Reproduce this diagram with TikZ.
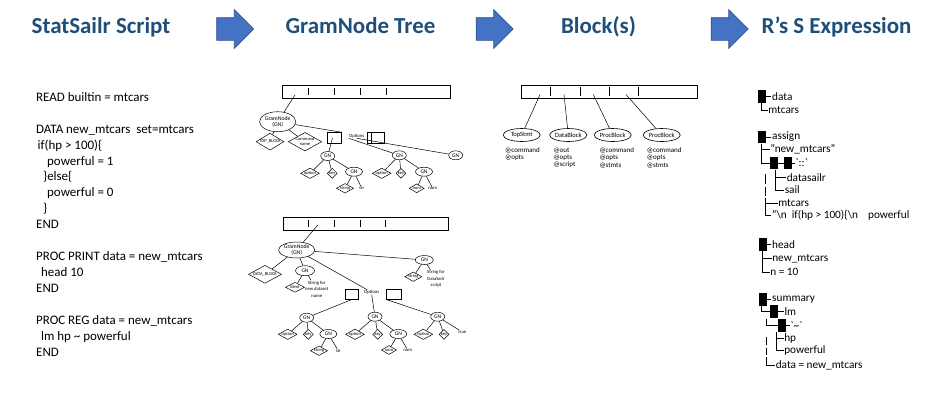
\documentclass[tikz,border=0pt]{standalone}
\usepackage{fontspec}
\setmainfont{Carlito}
\usetikzlibrary{positioning,shapes.geometric,shapes.arrows}
\definecolor{hdrblue}{HTML}{1F4E79}
\definecolor{arrfill}{HTML}{4472C4}
\definecolor{arrline}{HTML}{2F528F}
\tikzset{
    hdr/.style={font=\fontsize{23}{27}\selectfont\bfseries, text=hdrblue, anchor=base, inner sep=0pt},
    bigarrow/.style={single arrow, draw=arrline, fill=arrfill, line width=0.7bp, inner xsep=0pt, inner ysep=11bp,
        minimum height=37bp, single arrow head extend=8bp},
    code/.style={anchor=north west, align=left, inner sep=0pt, font=\fontsize{13}{16}\selectfont},
    cellrow/.style={draw, line width=0.6bp, inner sep=0pt},
    tl/.style={line width=0.5bp},
    gram/.style={ellipse, draw, line width=0.5bp, inner sep=0pt, align=center, font=\fontsize{5.8}{6.3}\selectfont},
    gn/.style={ellipse, draw, line width=0.5bp, inner sep=0pt, minimum width=14bp, minimum height=9bp, font=\fontsize{5.5}{6}\selectfont},
    leaf/.style={diamond, draw, line width=0.5bp, inner sep=0pt, aspect=1.8, minimum width=18bp, minimum height=10bp, font=\fontsize{4.5}{5}\selectfont},
    keyleaf/.style={leaf, aspect=1, minimum width=10bp},
    note/.style={align=center, inner sep=0.3bp, font=\fontsize{4.7}{6.6}\selectfont},
    optbox/.style={draw, line width=0.5bp, inner sep=0pt, minimum height=10.5bp},
    blk/.style={ellipse, draw, line width=0.6bp, inner sep=0pt, minimum width=37bp, minimum height=13bp, font=\fontsize{6.5}{7}\selectfont},
    attr/.style={anchor=north west, align=left, inner sep=0pt, font=\fontsize{7}{7.4}\selectfont},
    sbox/.style={fill=black, inner sep=0pt, minimum width=8bp, minimum height=12.6bp},
    sx/.style={anchor=west, inner sep=0.6bp, font=\fontsize{11.3}{13}\selectfont},
}

\begin{document}
\begin{tikzpicture}[x=1bp,y=-1bp]
  \useasboundingbox (0,0) rectangle (941,407);
  % headings and arrows
  \node[hdr] (h1) at (101,33) {StatSailr Script};
  \node[hdr] (h2) at (360.5,33) {GramNode Tree};
  \node[hdr] (h3) at (598.5,33) {Block(s)};
  \node[hdr] (h4) at (836.5,33) {R’s S Expression};
  \node[bigarrow] (a1) at (229.5,29) {};
  \node[bigarrow] (a2) at (489,29) {};
  \node[bigarrow] (a3) at (724,29) {};

  % the script
  \node[code] (src) at (36,92) {READ builtin = mtcars\\[16bp]
    DATA new\_mtcars\ \ set=mtcars\\
    \hspace*{1.5bp}if(hp > 100)\{\\
    \hspace*{11bp}powerful = 1\\
    \hspace*{7bp}\}else\{\\
    \hspace*{11bp}powerful = 0\\
    \hspace*{7bp}\}\\
    END\\[16bp]
    PROC PRINT data = new\_mtcars\\
    \hspace*{5bp}head 10\\
    END\\[16bp]
    PROC REG data = new\_mtcars\\
    \hspace*{5bp}lm hp \textasciitilde{} powerful\\
    END};

  % first tree
  \node[cellrow, minimum width=167.7bp, minimum height=13.3bp] (arrA) at (366.2,91.7) {};
  \foreach \x in {308.3,334.3,360,386.7} \draw[tl] (\x,88) -- (\x,95);
  \coordinate (cA) at (295,95);
  \node[gram, minimum width=35bp, minimum height=20bp] (gramA) at (277.7,121.7) {GramNode\\(GN)};
  \node[leaf, minimum width=27bp, minimum height=17bp] (topblk) at (270,141.7) {TOP\_BLOCK};
  \node[leaf, minimum width=33bp, minimum height=18bp, align=center] (cmdname) at (305,141.7) {Command\\name};
  \node[optbox, minimum width=14.4bp] (oAl) at (334.5,137.8) {};
  \node[note] (oA) at (356.7,135.8) {Options};
  \node[optbox, minimum width=17bp] (oAr) at (375.5,137.5) {};
  \draw[tl] (371,132.3) -- (371,142.7);
  \draw[tl] (cA) -- (gramA);
  \draw[tl] (gramA) -- (topblk);
  \draw[tl] (gramA) -- (cmdname);
  \draw[tl] (gramA) -- (oAl.north east);

  \node[gn] (gA1) at (327.7,156) {GN};
  \node[gn] (gA2) at (399.3,155.3) {GN};
  \node[gn] (gA3) at (455.7,155.3) {GN};
  \draw[tl] ([xshift=-2bp]oAl.center) -- (gA1);
  \draw[tl] (oA.south west) -- (gA2);
  \draw[tl] (oA.south) -- (gA3);

  \node[leaf] (dA1) at (310,173.3) {option};
  \node[keyleaf] (kA1) at (332.3,173.3) {key};
  \node[gn, minimum width=17bp] (gA11) at (354,171.7) {GN};
  \node[leaf, minimum width=15bp, minimum height=9bp] (sA11) at (345,188.3) {string};
  \node[note] (vA11) at (361.7,188.3) {str};
  \draw[tl] (gA1) -- (dA1);
  \draw[tl] (gA1) -- (kA1);
  \draw[tl] (gA1) -- (gA11);
  \draw[tl] (gA11) -- (sA11);
  \draw[tl] (gA11) -- (vA11);

  \node[leaf] (dA2) at (381.7,173.3) {option};
  \node[keyleaf] (kA2) at (401,173.3) {key};
  \node[gn, minimum width=17bp] (gA21) at (424,171.7) {GN};
  \node[leaf, minimum width=15bp, minimum height=9bp] (mA21) at (416.7,188.3) {num};
  \node[note] (vA21) at (432.7,188.3) {num};
  \draw[tl] (gA2) -- (dA2);
  \draw[tl] (gA2) -- (kA2);
  \draw[tl] (gA2) -- (gA21);
  \draw[tl] (gA21) -- (mA21);
  \draw[tl] (gA21) -- (vA21);

  % second tree
  \node[cellrow, minimum width=165bp, minimum height=12.7bp] (arrB) at (365.8,223.7) {};
  \foreach \x in {308.3,334.3,360,385.7} \draw[tl] (\x,220) -- (\x,227);
  \coordinate (cB) at (317.7,225);
  \node[gram, minimum width=34bp, minimum height=16bp] (gramB) at (296.7,250) {GramNode\\(GN)};
  \node[leaf, minimum width=33bp, minimum height=18bp] (dblk) at (265,274.3) {DATA\_BLOCK};
  \node[gn, minimum width=19bp, minimum height=10bp] (gB1) at (305,270.7) {GN};
  \node[leaf, minimum width=19bp] (iB1) at (295,287.3) {ident};
  \node[note] (nB1) at (316.7,289) {String for\\new dataset\\name};
  \node[gn, minimum width=18bp] (gB2) at (424.3,260) {GN};
  \node[leaf, minimum width=15bp, minimum height=8bp] (sB2) at (413.3,276.7) {string};
  \node[note] (nB2) at (436,279) {String for\\DataSailr\\script};
  \node[optbox, minimum width=13.3bp, minimum height=10bp] (oBl) at (351.7,294.3) {};
  \node[note] (oB) at (371.7,292.3) {Options};
  \node[optbox, minimum width=15bp, minimum height=10bp] (oBr) at (394.2,294.3) {};
  \draw[tl] (cB) -- (gramB);
  \draw[tl] (gramB) -- (dblk);
  \draw[tl] (gramB) -- (gB1);
  \draw[tl] (gB1) -- (iB1);
  \draw[tl] (gB1) -- (nB1);
  \draw[tl] (gramB) -- (gB2);
  \draw[tl] (gB2) -- (sB2);
  \draw[tl] (gB2) -- (nB2);
  \draw[tl] (gramB) -- (oB);

  \node[gn] (gB3) at (306.7,317.7) {GN};
  \node[gn] (gB4) at (375,316.7) {GN};
  \node[gn] (gB5) at (437.7,316.7) {GN};
  \draw[tl] (oBl.south) -- (gB3);
  \draw[tl] (oB.south) -- (gB4);
  \draw[tl] (oBr.south west) -- (gB5);

  \node[leaf] (dB3) at (287.7,334.3) {option};
  \node[keyleaf] (kB3) at (308.3,334.3) {key};
  \node[gn, minimum width=17bp] (gB31) at (328.3,334) {GN};
  \node[leaf, minimum width=15bp, minimum height=9bp] (sB31) at (319,350.7) {string};
  \node[note] (vB31) at (338.3,350.7) {str};
  \draw[tl] (gB3) -- (dB3);
  \draw[tl] (gB3) -- (kB3);
  \draw[tl] (gB3) -- (gB31);
  \draw[tl] (gB31) -- (sB31);
  \draw[tl] (gB31) -- (vB31);

  \node[leaf] (dB4) at (355,334.3) {option};
  \node[keyleaf] (kB4) at (377.7,334.3) {key};
  \node[gn, minimum width=17bp] (gB41) at (398.3,334) {GN};
  \node[leaf, minimum width=15bp, minimum height=9bp] (mB41) at (389,350) {num};
  \node[note] (vB41) at (407.7,350) {num};
  \draw[tl] (gB4) -- (dB4);
  \draw[tl] (gB4) -- (kB4);
  \draw[tl] (gB4) -- (gB41);
  \draw[tl] (gB41) -- (mB41);
  \draw[tl] (gB41) -- (vB41);

  \node[leaf] (dB5) at (423.3,334.3) {option};
  \node[keyleaf] (kB5) at (444,334.3) {key};
  \node[note] (vB5) at (462.3,332) {true};
  \draw[tl] (gB5) -- (dB5);
  \draw[tl] (gB5) -- (kB5);
  \draw[tl] (gB5) -- (vB5);

  % blocks
  \node[cellrow, minimum width=176bp, minimum height=13.3bp] (arrC) at (609.7,91.7) {};
  \foreach \x in {550.7,580,609.3,638.3} \draw[tl] (\x,87.3) -- (\x,96);
  \node[blk] (b1) at (521.7,135) {TopStmt};
  \node[blk] (b2) at (568.3,135) {DataBlock};
  \node[blk] (b3) at (612.7,135) {ProcBlock};
  \node[blk] (b4) at (661.7,135) {ProcBlock};
  \foreach \x/\b in {540/b1,564/b2,593.3/b3,626/b4} \draw[tl] (\x,94.5) -- (\b);
  \node[attr] (t1) at (505,147.5) {@command\\@opts};
  \node[attr] (t2) at (553.3,147.5) {@out\\@opts\\@script};
  \node[attr] (t3) at (599.3,147.5) {@command\\@opts\\@stmts};
  \node[attr] (t4) at (646.7,147.5) {@command\\@opts\\@stmts};

  % S expressions
  \node[sbox] (s1) at (762.2,96.3) {};
  \node[sx] (s1a) at (771.4,96.3) {data};
  \node[sx] (s1b) at (767.5,110) {mtcars};
  \draw[tl] (s1) -- (s1a);
  \draw[tl] ([xshift=-0.5bp]s1.south) |- (s1b);

  \node[sbox] (s2) at (762.2,137) {};
  \node[sx] (s2a) at (771.4,137) {assign};
  \node[sx] (s2b) at (769.5,149.5) {"new\_mtcars"};
  \node[sbox] (s2c) at (773.8,163) {};
  \node[sbox] (s2d) at (788,163) {};
  \node[sx] (s2e) at (794.5,163) {\textasciigrave::\textasciigrave};
  \node[sx] (s2f) at (786,177.7) {datasailr};
  \node[sx] (s2g) at (784,190) {sail};
  \node[sx] (s2h) at (777.5,203.3) {mtcars};
  \node[sx] (s2i) at (771,215.5) {"\textbackslash n\ \ if(hp > 100)\{\textbackslash n\hspace{10bp}powerful};
  \coordinate (v2) at (765.7,197.5);
  \draw[tl] (s2) -- (s2a);
  \draw[tl] ([xshift=-0.5bp]s2.south) |- (s2b);
  \draw[tl] ([xshift=-0.5bp]s2.south) |- (s2c);
  \draw[tl] (s2c) -- (s2d);
  \draw[tl] (s2d) -- (s2e);
  \draw[tl] ([xshift=1.2bp]s2c.south) |- (s2f);
  \draw[tl] ([xshift=1.2bp]s2c.south) |- (s2g);
  \draw[tl] (765.7,174) -- (765.7,183.5) (765.7,186.5) -- (765.7,195.5);
  \draw[tl] (v2) |- (s2h);
  \draw[tl] (v2) |- (s2i);

  \node[sbox] (s3) at (762.5,244.5) {};
  \node[sx] (s3a) at (771.4,244.5) {head};
  \node[sx] (s3b) at (771.5,258.3) {new\_mtcars};
  \node[sx] (s3c) at (769.5,272.3) {n = 10};
  \draw[tl] (s3) -- (s3a);
  \draw[tl] (s3.south) |- (s3b);
  \draw[tl] (s3.south) |- (s3c);

  \node[sbox] (s4) at (762.5,299.7) {};
  \node[sx] (s4a) at (771.4,299.7) {summary};
  \node[sbox] (s4b) at (774.2,311.7) {};
  \node[sx] (s4c) at (783.7,311.7) {lm};
  \node[sbox] (s4d) at (782.2,325.2) {};
  \node[sx] (s4e) at (789.5,325.2) {\textasciigrave\textasciitilde\textasciigrave};
  \node[sx] (s4f) at (783.5,338.3) {hp};
  \node[sx] (s4g) at (783.5,350.7) {powerful};
  \node[sx] (s4h) at (775,365) {data = new\_mtcars};
  \coordinate (v4) at (766.7,318.5);
  \coordinate (v5) at (776,331.5);
  \coordinate (v6) at (766.7,357);
  \draw[tl] (s4) -- (s4a);
  \draw[tl] ([xshift=-0.8bp]s4.south) |- (s4b);
  \draw[tl] (s4b) -- (s4c);
  \draw[tl] (v4) |- (s4d);
  \draw[tl] (s4d) -- (s4e);
  \draw[tl] (v5) |- (s4f);
  \draw[tl] (v5) |- (s4g);
  \draw[tl] (766.7,336.5) -- (766.7,345) (766.7,347.5) -- (766.7,355);
  \draw[tl] (v6) |- (s4h);
\end{tikzpicture}
\end{document}
